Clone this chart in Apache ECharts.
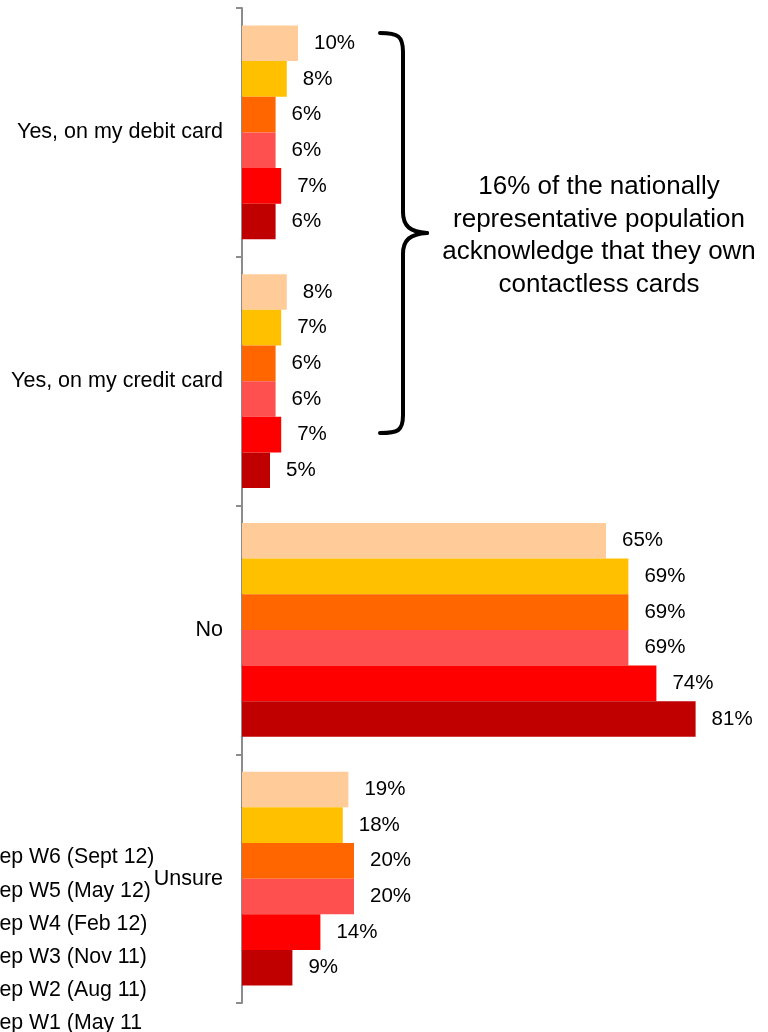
<!DOCTYPE html>
<html>
<head>
<meta charset="utf-8">
<style>
  html, body { margin: 0; padding: 0; background: #ffffff; }
  #chart { width: 768px; height: 1032px; }
</style>
<script src="https://cdn.jsdelivr.net/npm/echarts@6/dist/echarts.min.js"></script>
</head>
<body>
<div id="chart"></div>
<script>
// Answer options, listed top to bottom
const categories = ['Yes, on my debit card', 'Yes, on my credit card', 'No', 'Unsure'];

// Survey waves, newest first (top bar in each group)
const waveNames = ['Rep W6 (Sept 12)', 'Rep W5 (May 12)', 'Rep W4 (Feb 12)', 'Rep W3 (Nov 11)', 'Rep W2 (Aug 11)', 'Rep W1 (May 11'];
const waveColors = ['#FFCC99', '#FFC000', '#FF6600', '#FF5050', '#FF0000', '#C00000'];

// Share of respondents (%) per wave, in category order
const repW6 = [10, 8, 65, 19];
const repW5 = [8, 7, 69, 18];
const repW4 = [6, 6, 69, 20];
const repW3 = [6, 6, 69, 20];
const repW2 = [7, 7, 74, 14];
const repW1 = [6, 5, 81, 9];
const waveValues = [repW6, repW5, repW4, repW3, repW2, repW1];

const annotationLines = [
  '16% of the nationally',
  'representative population',
  'acknowledge that they own',
  'contactless cards'
];

const FONT = '"Liberation Sans", Arial, sans-serif';

const chart = echarts.init(document.getElementById('chart'), null, { renderer: 'canvas' });

const series = waveNames.map((name, i) => ({
  name: name,
  type: 'bar',
  data: waveValues[i],
  barGap: '0%',
  barCategoryGap: '14%',
  itemStyle: { color: waveColors[i] },
  label: {
    show: true,
    position: 'right',
    distance: 16,
    formatter: '{c}%',
    color: '#000000',
    fontSize: 20.5,
    fontFamily: FONT
  },
  emphasis: { disabled: true }
}));

// Curly brace spanning the two "Yes" groups, pointing at the note
const braceStyle = { fill: null, stroke: '#000000', lineWidth: 4, lineCap: 'round' };
const braceParts = [
  { type: 'bezierCurve', shape: { x1: 380, y1: 33, cpx1: 398, cpy1: 33, cpx2: 403, cpy2: 36, x2: 403, y2: 52 } },
  { type: 'line', shape: { x1: 403, y1: 52, x2: 403, y2: 212 } },
  { type: 'bezierCurve', shape: { x1: 403, y1: 212, cpx1: 403, cpy1: 226, cpx2: 410, cpy2: 232, x2: 427, y2: 233 } },
  { type: 'bezierCurve', shape: { x1: 427, y1: 233, cpx1: 410, cpy1: 234, cpx2: 403, cpy2: 240, x2: 403, y2: 254 } },
  { type: 'line', shape: { x1: 403, y1: 254, x2: 403, y2: 415 } },
  { type: 'bezierCurve', shape: { x1: 403, y1: 415, cpx1: 403, cpy1: 431, cpx2: 398, cpy2: 433, x2: 380, y2: 433 } }
].map(p => Object.assign(p, { style: braceStyle, silent: true }));

chart.setOption({
  animation: false,
  backgroundColor: '#ffffff',
  grid: { left: 242, top: 8, width: 504, bottom: 29, containLabel: false },
  xAxis: {
    type: 'value',
    min: 0,
    max: 90,
    show: false
  },
  yAxis: {
    type: 'category',
    data: categories,
    inverse: true,
    axisLine: { show: true, lineStyle: { color: '#8c8c8c', width: 2 } },
    axisTick: { show: true, length: 6, alignWithLabel: false, lineStyle: { color: '#8c8c8c', width: 2 } },
    axisLabel: { color: '#000000', fontSize: 21.5, fontFamily: FONT, margin: 19 },
    splitLine: { show: false }
  },
  legend: {
    orient: 'vertical',
    left: -35,
    top: 847,
    height: 240,
    padding: 0,
    itemWidth: 14,
    itemHeight: 14,
    itemGap: 12.2,
    icon: 'rect',
    textStyle: { color: '#000000', fontSize: 21.3, fontFamily: FONT, lineHeight: 21 },
    data: waveNames
  },
  series: series,
  graphic: braceParts.concat([
    {
      type: 'text',
      x: 599,
      y: 236,
      style: {
        text: annotationLines.join('\n'),
        fill: '#000000',
        fontSize: 26,
        fontFamily: FONT,
        lineHeight: 32.5,
        align: 'center',
        verticalAlign: 'middle'
      },
      silent: true
    }
  ])
});
</script>
</body>
</html>
